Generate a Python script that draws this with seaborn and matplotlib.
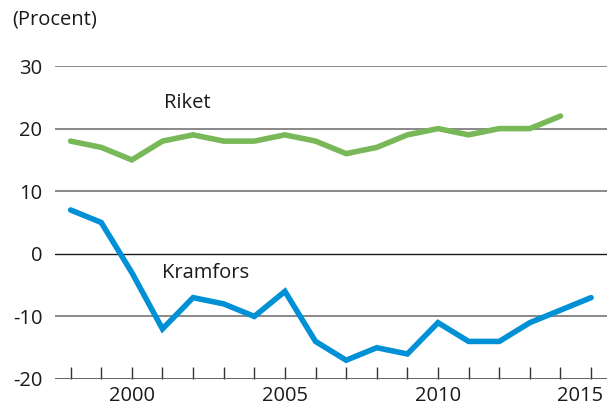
import matplotlib
matplotlib.use("Agg")
import matplotlib.pyplot as plt
import matplotlib.transforms as mtransforms
import seaborn as sns
import pandas as pd

years_kramfors = list(range(1998, 2016))
kramfors = [7, 5, -3, -12, -7, -8, -10, -6, -14, -17, -15, -16, -11, -14, -14, -11, -9, -7]
years_riket = list(range(1998, 2015))
riket = [18, 17, 15, 18, 19, 18, 18, 19, 18, 16, 17, 19, 20, 19, 20, 20, 22]
y_ticks = [-20, -10, 0, 10, 20, 30]
x_label_years = [2000, 2005, 2010, 2015]

sns.set_theme(style="white")
plt.rcParams['font.family'] = ['Open Sans', 'DejaVu Sans']

df = pd.concat([
    pd.DataFrame({"year": years_kramfors, "value": kramfors, "serie": "Kramfors"}),
    pd.DataFrame({"year": years_riket, "value": riket, "serie": "Riket"}),
])

fig = plt.figure(figsize=(6.08, 4.08), dpi=100)
ax = fig.add_axes([55/608, 1 - 379/408, 552/608, (379 - 66)/408])

for yv in y_ticks:
    if yv == 0:
        ax.axhline(yv, color="#1a1a1a", lw=1.0, zorder=1)
    elif yv == -20:
        ax.axhline(yv, color="#555555", lw=1.3, zorder=1)
    else:
        ax.axhline(yv, color="#808080", lw=1.3, zorder=1)

sns.lineplot(data=df, x="year", y="value", hue="serie",
             palette={"Kramfors": "#0090d6", "Riket": "#78b858"},
             linewidth=4.0, legend=False, ax=ax, zorder=3,
             solid_capstyle="round", solid_joinstyle="miter")

ax.set_xlim(1997.49, 2015.52)
ax.set_ylim(-20, 30)
for s in ax.spines.values():
    s.set_visible(False)
ax.set_xlabel("")
ax.set_ylabel("")

fs = 14.5
ax.set_yticks(y_ticks)
ax.set_yticklabels([str(v) for v in y_ticks], fontsize=fs, color="#1a1a1a")
ax.tick_params(axis="y", left=False, length=0, pad=9)

ax.set_xticks(list(range(1998, 2016)))
ax.set_xticklabels([str(y) if y in x_label_years else "" for y in range(1998, 2016)],
                   fontsize=fs, color="#1a1a1a")
ax.tick_params(axis="x", bottom=True, direction="in", length=9, width=1.0,
               color="#333333", pad=5)
lbl = ax.get_xticklabels()[-1]
lbl.set_transform(lbl.get_transform() + mtransforms.ScaledTranslation(-0.11, 0, fig.dpi_scale_trans))

fig.text(12/608, 1 - 20/408, "(Procent)", fontsize=fs, color="#1a1a1a", va="center", ha="left")
ax.text(2001.05, 24.1, "Riket", fontsize=fs, color="#1a1a1a", va="center", ha="left")
ax.text(2001.0, -3.0, "Kramfors", fontsize=fs, color="#1a1a1a", va="center", ha="left")

fig.savefig("out.png", dpi=100)
